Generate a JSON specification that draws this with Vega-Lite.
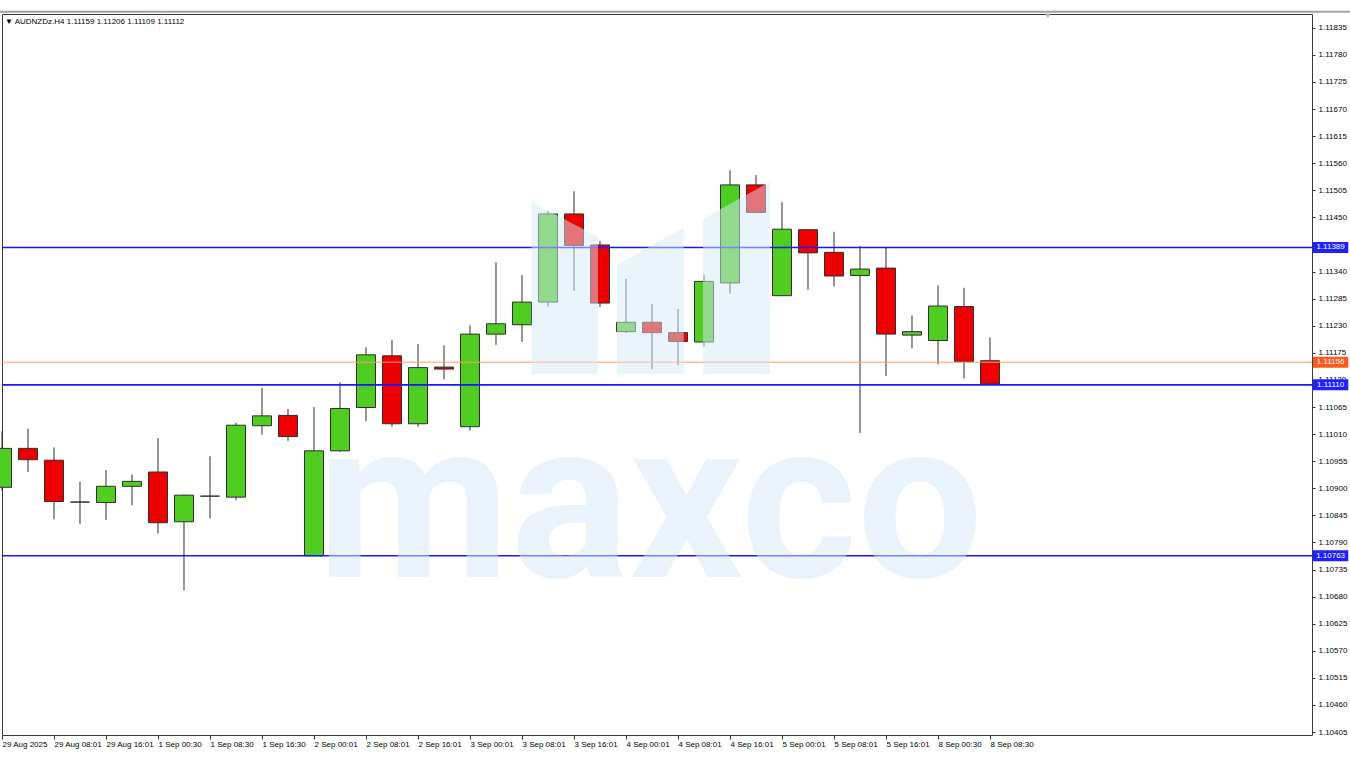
{
  "$schema": "https://vega.github.io/schema/vega-lite/v6.json",
  "width": 1310,
  "height": 721,
  "autosize": {"type": "none"},
  "padding": {"left": 2, "top": 14, "right": 38, "bottom": 26},
  "background": "white",
  "config": {
    "view": {"stroke": "#3a3a3a", "strokeWidth": 1},
    "font": "Liberation Sans",
    "axis": {"labelOverlap": false, "labelFlush": false, "labelBound": false, "grid": false, "domain": false, "title": null},
    "scale": {"continuousPadding": 0}
  },
  "title": {
    "text": "▼ AUDNZDz.H4  1.11159 1.11206 1.11109 1.11112",
    "anchor": "start",
    "frame": "group",
    "orient": "top",
    "offset": -19,
    "baseline": "middle",
    "dx": 3,
    "fontSize": 8,
    "fontWeight": "normal",
    "color": "#000000",
    "font": "Liberation Sans"
  },
  "datasets": {
    "candles": [
      {"i": 0, "o": 1.10902, "h": 1.11016, "l": 1.10895, "c": 1.10981},
      {"i": 1, "o": 1.10981, "h": 1.11021, "l": 1.10933, "c": 1.10958},
      {"i": 2, "o": 1.10957, "h": 1.10983, "l": 1.10837, "c": 1.10873},
      {"i": 3, "o": 1.10872, "h": 1.10913, "l": 1.10827, "c": 1.10872},
      {"i": 4, "o": 1.10871, "h": 1.10937, "l": 1.10836, "c": 1.10904},
      {"i": 5, "o": 1.10904, "h": 1.10928, "l": 1.10865, "c": 1.10914},
      {"i": 6, "o": 1.10933, "h": 1.11002, "l": 1.10808, "c": 1.10830},
      {"i": 7, "o": 1.10832, "h": 1.10887, "l": 1.10693, "c": 1.10886},
      {"i": 8, "o": 1.10884, "h": 1.10965, "l": 1.10839, "c": 1.10884},
      {"i": 9, "o": 1.10882, "h": 1.11033, "l": 1.10876, "c": 1.11028},
      {"i": 10, "o": 1.11027, "h": 1.11104, "l": 1.11009, "c": 1.11047},
      {"i": 11, "o": 1.11048, "h": 1.11061, "l": 1.10996, "c": 1.11005},
      {"i": 12, "o": 1.10763, "h": 1.11065, "l": 1.10763, "c": 1.10976},
      {"i": 13, "o": 1.10976, "h": 1.11115, "l": 1.10974, "c": 1.11062},
      {"i": 14, "o": 1.11064, "h": 1.11186, "l": 1.11036, "c": 1.11171},
      {"i": 15, "o": 1.11169, "h": 1.11201, "l": 1.11025, "c": 1.11031},
      {"i": 16, "o": 1.11031, "h": 1.11193, "l": 1.11025, "c": 1.11145},
      {"i": 17, "o": 1.11146, "h": 1.11190, "l": 1.11121, "c": 1.11142},
      {"i": 18, "o": 1.11025, "h": 1.11231, "l": 1.11017, "c": 1.11213},
      {"i": 19, "o": 1.11213, "h": 1.11359, "l": 1.11191, "c": 1.11234},
      {"i": 20, "o": 1.11232, "h": 1.11333, "l": 1.11197, "c": 1.11278},
      {"i": 21, "o": 1.11278, "h": 1.11463, "l": 1.11269, "c": 1.11457},
      {"i": 22, "o": 1.11457, "h": 1.11503, "l": 1.11301, "c": 1.11393},
      {"i": 23, "o": 1.11394, "h": 1.11402, "l": 1.11268, "c": 1.11276},
      {"i": 24, "o": 1.11218, "h": 1.11325, "l": 1.11215, "c": 1.11237},
      {"i": 25, "o": 1.11237, "h": 1.11274, "l": 1.11142, "c": 1.11216},
      {"i": 26, "o": 1.11216, "h": 1.11264, "l": 1.11150, "c": 1.11198},
      {"i": 27, "o": 1.11197, "h": 1.11333, "l": 1.11188, "c": 1.11320},
      {"i": 28, "o": 1.11317, "h": 1.11546, "l": 1.11295, "c": 1.11516},
      {"i": 29, "o": 1.11516, "h": 1.11536, "l": 1.11459, "c": 1.11460},
      {"i": 30, "o": 1.11291, "h": 1.11481, "l": 1.11291, "c": 1.11426},
      {"i": 31, "o": 1.11425, "h": 1.11426, "l": 1.11303, "c": 1.11378},
      {"i": 32, "o": 1.11379, "h": 1.11421, "l": 1.11310, "c": 1.11331},
      {"i": 33, "o": 1.11332, "h": 1.11392, "l": 1.11012, "c": 1.11345},
      {"i": 34, "o": 1.11347, "h": 1.11388, "l": 1.11128, "c": 1.11213},
      {"i": 35, "o": 1.11211, "h": 1.11251, "l": 1.11184, "c": 1.11218},
      {"i": 36, "o": 1.11200, "h": 1.11312, "l": 1.11152, "c": 1.11270},
      {"i": 37, "o": 1.11269, "h": 1.11307, "l": 1.11123, "c": 1.11157},
      {"i": 38, "o": 1.11159, "h": 1.11206, "l": 1.11109, "c": 1.11112}
    ],
    "levels": [
      {"p": 1.11389, "kind": "level"},
      {"p": 1.11110, "kind": "level"},
      {"p": 1.10763, "kind": "level"},
      {"p": 1.11156, "kind": "bid"}
    ],
    "logo": [
      {"bar": 1, "x": 20.37, "top": 1.11482, "bot": 1.11132},
      {"bar": 1, "x": 22.92, "top": 1.11410, "bot": 1.11132},
      {"bar": 2, "x": 23.65, "top": 1.11354, "bot": 1.11132},
      {"bar": 2, "x": 26.22, "top": 1.11429, "bot": 1.11132},
      {"bar": 3, "x": 26.96, "top": 1.11447, "bot": 1.11132},
      {"bar": 3, "x": 29.54, "top": 1.11522, "bot": 1.11132}
    ]
  },
  "layer": [
    {
      "data": {"name": "candles"},
      "mark": {"type": "rule", "color": "#2e2e2e", "strokeWidth": 1},
      "encoding": {
        "x": {
          "field": "i", "type": "quantitative",
          "scale": {"domain": [0, 50.385], "nice": false, "zero": false, "padding": 0},
          "axis": {
            "orient": "bottom",
            "values": [0, 2, 4, 6, 8, 10, 12, 14, 16, 18, 20, 22, 24, 26, 28, 30, 32, 34, 36, 38],
            "tickCount": 100,
            "labelExpr": "['29 Aug 2025','29 Aug 08:01','29 Aug 16:01','1 Sep 00:30','1 Sep 08:30','1 Sep 16:30','2 Sep 00:01','2 Sep 08:01','2 Sep 16:01','3 Sep 00:01','3 Sep 08:01','3 Sep 16:01','4 Sep 00:01','4 Sep 08:01','4 Sep 16:01','5 Sep 00:01','5 Sep 08:01','5 Sep 16:01','8 Sep 00:30','8 Sep 08:30'][round(datum.value/2)]",
            "labelAlign": "left",
            "labelBaseline": "top",
            "labelPadding": 1,
            "labelFontSize": 8,
            "labelFont": "Liberation Sans",
            "labelColor": "#000000",
            "labelOverlap": false,
            "tickSize": 4,
            "tickColor": "#333333"
          }
        },
        "y": {
          "field": "l", "type": "quantitative",
          "scale": {"domain": [1.10399, 1.11863], "nice": false, "zero": false, "padding": 0},
          "axis": {
            "orient": "right",
            "values": [1.11835, 1.1178, 1.11725, 1.1167, 1.11615, 1.1156, 1.11505, 1.1145, 1.1134, 1.11285, 1.1123, 1.11175, 1.1112, 1.11065, 1.1101, 1.10955, 1.109, 1.10845, 1.1079, 1.10735, 1.1068, 1.10625, 1.1057, 1.10515, 1.1046, 1.10405],
            "tickCount": 100,
            "format": ".5f",
            "labelAlign": "left",
            "labelBaseline": "middle",
            "labelPadding": 3,
            "labelFontSize": 8,
            "labelFont": "Liberation Sans",
            "labelColor": "#000000",
            "labelOverlap": false,
            "tickSize": 3,
            "tickColor": "#333333"
          }
        },
        "y2": {"field": "h"}
      }
    },
    {
      "data": {"values": [{}]},
      "mark": {"type": "rule", "color": "#a0a0a0", "strokeWidth": 2},
      "encoding": {
        "x": {"datum": -0.2},
        "x2": {"datum": 52},
        "y": {"datum": 1.118675}
      }
    },
    {
      "data": {"name": "candles"},
      "mark": {"type": "bar", "size": 19, "stroke": "#2e2e2e", "strokeWidth": 1},
      "encoding": {
        "x": {"field": "i", "type": "quantitative"},
        "y": {"field": "o", "type": "quantitative"},
        "y2": {"field": "c"},
        "fill": {
          "condition": {"test": "datum.c >= datum.o", "value": "#4fcd21"},
          "value": "#ef0000"
        }
      }
    },
    {
      "data": {"name": "levels"},
      "mark": {"type": "rule"},
      "encoding": {
        "y": {"field": "p", "type": "quantitative"},
        "stroke": {
          "condition": {"test": "datum.kind === 'bid'", "value": "#ff9a66"},
          "value": "#1616ff"
        },
        "strokeWidth": {
          "condition": {"test": "datum.kind === 'bid'", "value": 1},
          "value": 1.6
        }
      }
    },
    {
      "data": {"name": "levels"},
      "mark": {"type": "bar", "size": 11},
      "encoding": {
        "x": {"datum": 50.42},
        "x2": {"datum": 51.78},
        "y": {"field": "p", "type": "quantitative"},
        "fill": {
          "condition": {"test": "datum.kind === 'bid'", "value": "#ff5a1e"},
          "value": "#1f1fff"
        }
      }
    },
    {
      "data": {"name": "levels"},
      "mark": {"type": "text", "color": "white", "fontSize": 8, "font": "Liberation Sans", "align": "center", "baseline": "middle"},
      "encoding": {
        "x": {"datum": 51.1},
        "y": {"field": "p", "type": "quantitative"},
        "text": {"field": "p", "type": "quantitative", "format": ".5f"}
      }
    },
    {
      "data": {"name": "logo"},
      "mark": {"type": "area", "orient": "vertical", "fill": "#d6e9f8", "opacity": 0.5, "interpolate": "linear"},
      "encoding": {
        "x": {"field": "x", "type": "quantitative"},
        "y": {"field": "top", "type": "quantitative"},
        "y2": {"field": "bot"},
        "detail": {"field": "bar", "type": "nominal"}
      }
    },
    {
      "data": {"values": [{}]},
      "mark": {"type": "text", "text": "maxco", "font": "Roboto", "fontWeight": "bold", "fontSize": 223, "fill": "#d6e9f8", "opacity": 0.5, "align": "center", "baseline": "alphabetic"},
      "encoding": {
        "x": {"datum": 24.92},
        "y": {"datum": 1.1072}
      }
    },
    {
      "data": {"values": [{}]},
      "mark": {"type": "point", "shape": "triangle-down", "filled": true, "fill": "#b4b4b4", "size": 30, "opacity": 1, "strokeWidth": 0},
      "encoding": {
        "x": {"datum": 40.23},
        "y": {"datum": 1.11859}
      }
    }
  ]
}
